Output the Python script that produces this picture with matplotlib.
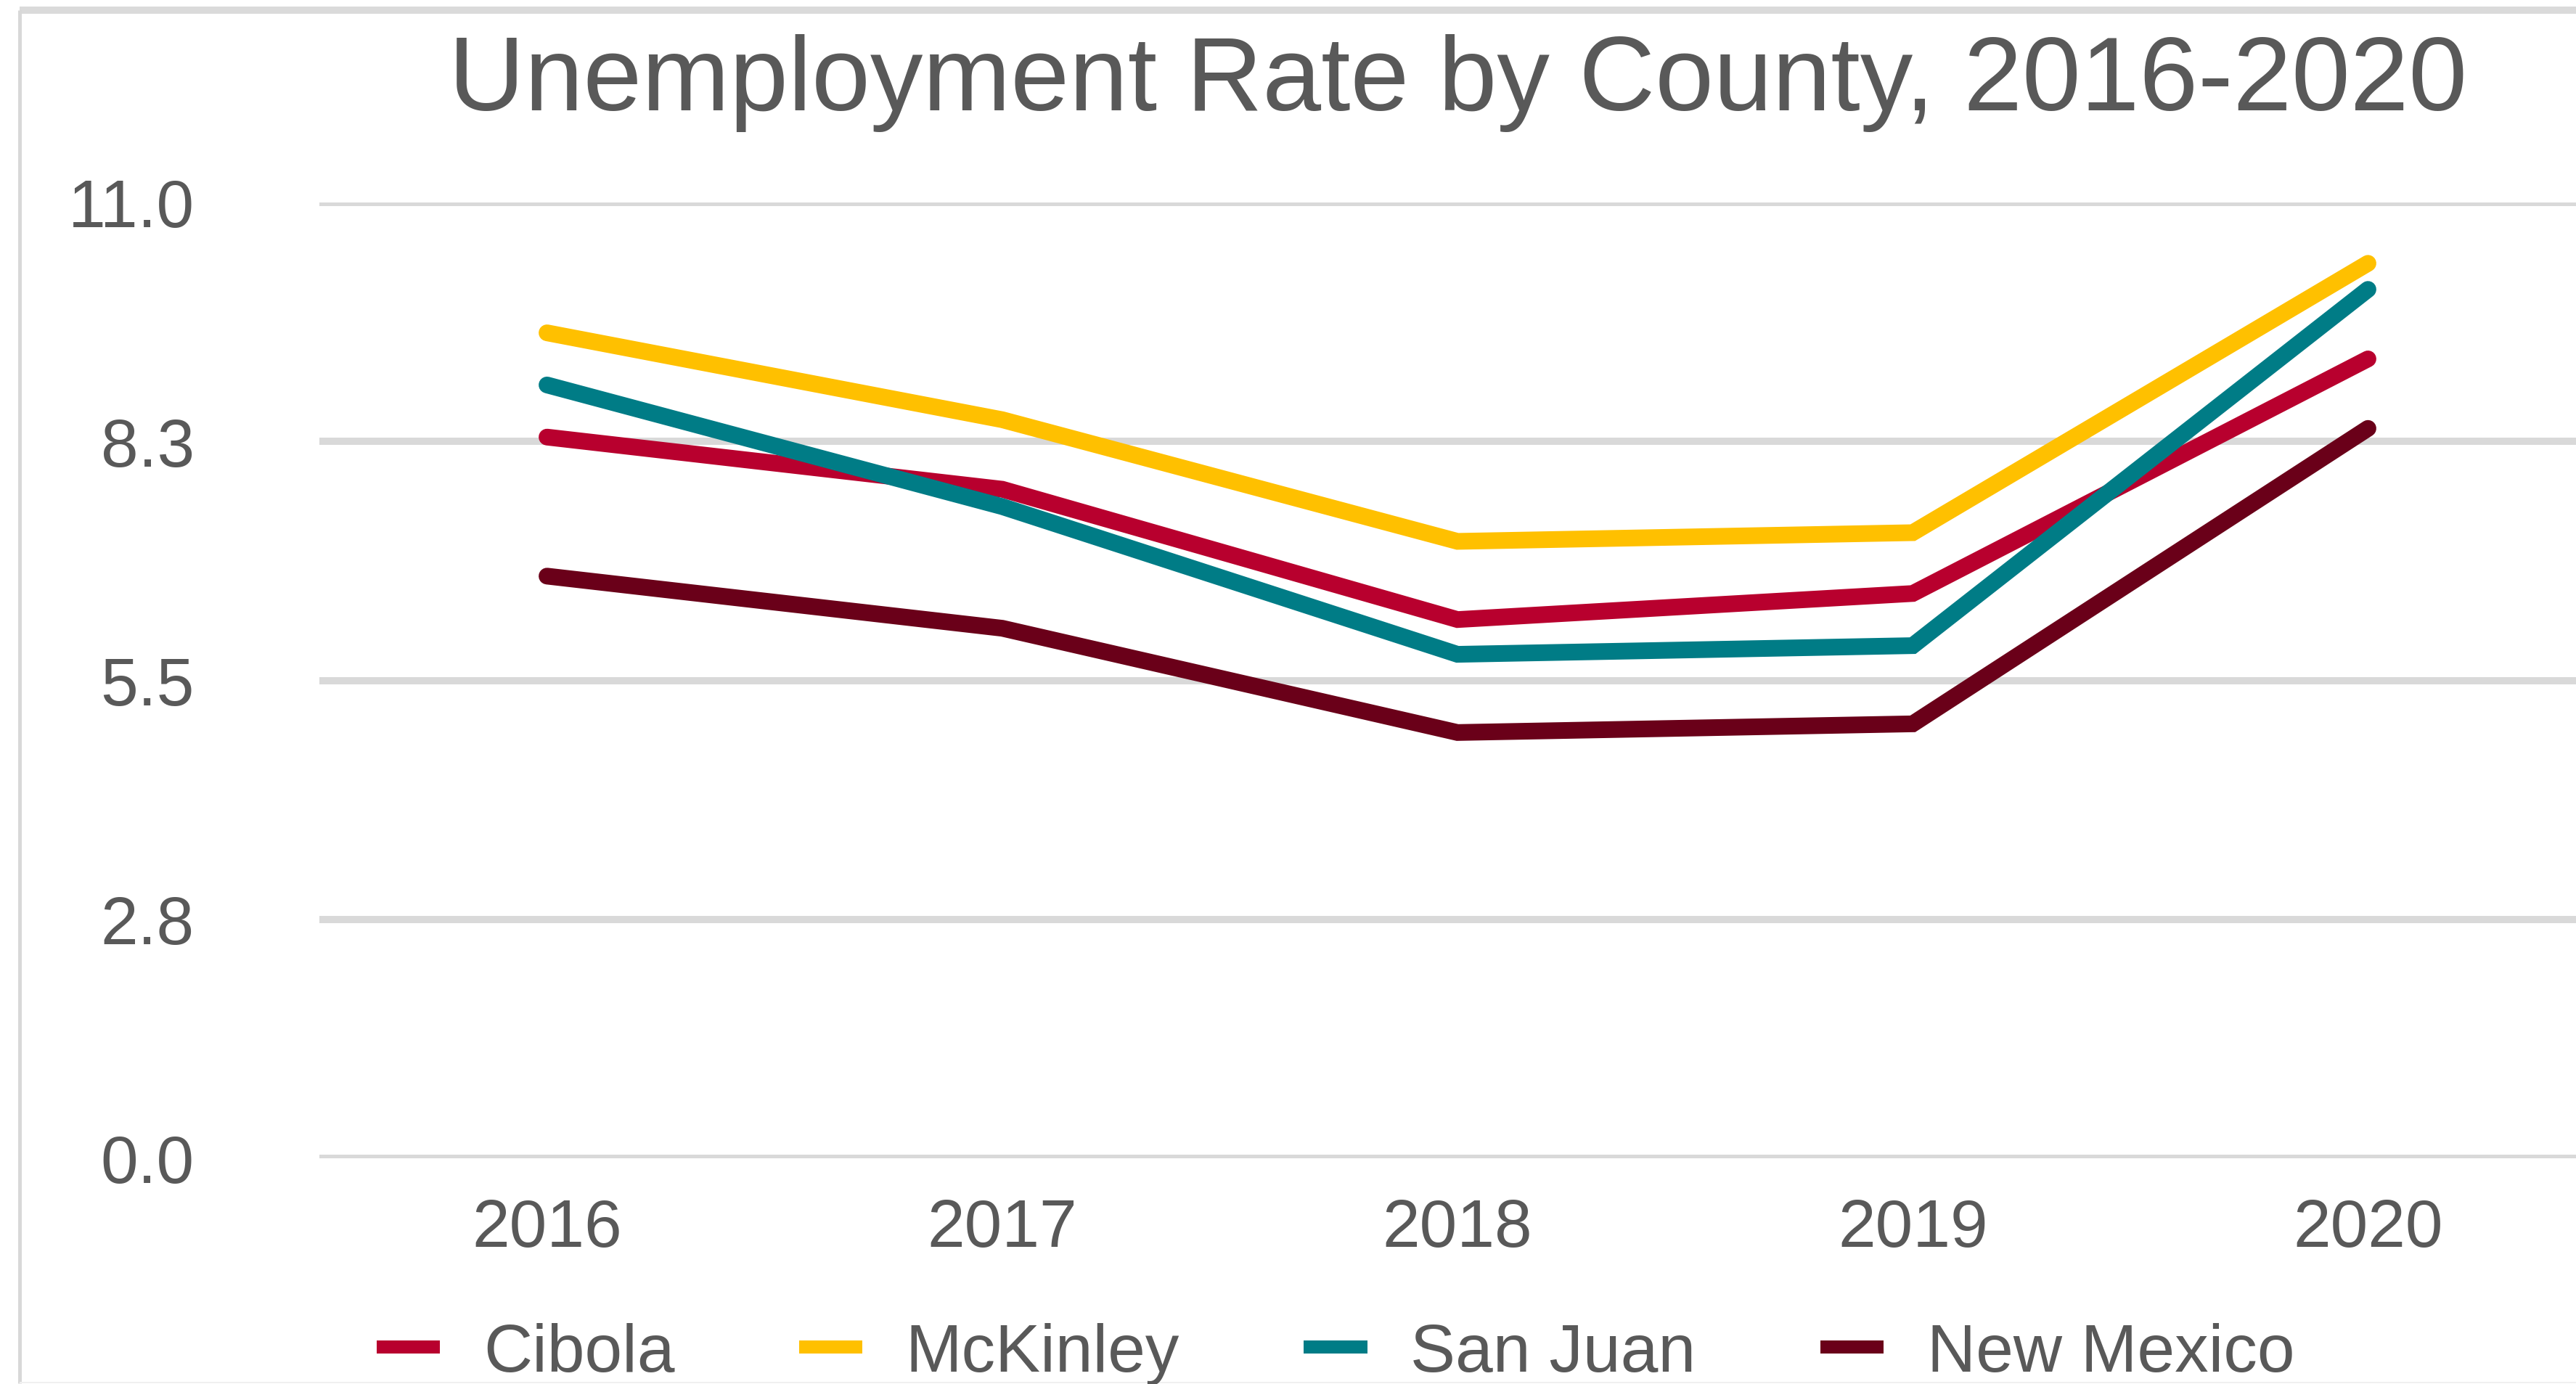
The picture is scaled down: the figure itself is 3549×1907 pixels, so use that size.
import matplotlib
matplotlib.use("Agg")
import matplotlib.pyplot as plt
from matplotlib.lines import Line2D

plt.rcParams['font.family'] = ['Liberation Sans', 'DejaVu Sans']

years = ["2016", "2017", "2018", "2019", "2020"]
series_names = ["Cibola", "McKinley", "San Juan", "New Mexico"]
cibola = [8.3, 7.7, 6.2, 6.5, 9.2]
mckinley = [9.5, 8.5, 7.1, 7.2, 10.3]
san_juan = [8.9, 7.5, 5.8, 5.9, 10.0]
new_mexico = [6.7, 6.1, 4.9, 5.0, 8.4]
y_ticks = [0.0, 2.75, 5.5, 8.25, 11.0]
y_tick_labels = ["0.0", "2.8", "5.5", "8.3", "11.0"]
title = "Unemployment Rate by County, 2016-2020"

colors = ["#B8002E", "#FFC000", "#007C86", "#6A0019"]
text_color = "#595959"
grid_color = "#D9D9D9"

W, H = 3549, 1908
DPI = 100
fig = plt.figure(figsize=(W / DPI, H / DPI), dpi=DPI)
fig.patch.set_facecolor("white")

def px(v):
    return v * 72.0 / DPI

# outer chart frame (cropped screenshot)
fig.add_artist(Line2D([27 / W, 1.0], [1 - 15 / H, 1 - 15 / H], transform=fig.transFigure,
                      color="#DADADA", lw=px(10), solid_capstyle="butt"))
fig.add_artist(Line2D([27 / W, 27 / W], [1 - 15 / H, 1 - 1907 / H], transform=fig.transFigure,
                      color="#D8D8D8", lw=px(5), solid_capstyle="butt"))
fig.add_artist(Line2D([27 / W, 1.0], [1 - 1906 / H, 1 - 1906 / H], transform=fig.transFigure,
                      color="#F0F0F0", lw=px(2), solid_capstyle="butt"))

left, right, top, bottom = 440, 3576, 280, 1597
ax = fig.add_axes([left / W, 1 - bottom / H, (right - left) / W, (bottom - top) / H])
ax.set_facecolor("none")

x = list(range(len(years)))
data = [cibola, mckinley, san_juan, new_mexico]
for vals, c, name in zip(data, colors, series_names):
    ax.plot(x, vals, color=c, lw=px(23), solid_capstyle="round",
            solid_joinstyle="miter", label=name, zorder=3)

ax.set_xlim(-0.5, len(years) - 0.5)
ax.set_ylim(0, 11)
ax.set_yticks(y_ticks)
ax.set_yticklabels(y_tick_labels)
ax.set_xticks(x)
ax.set_xticklabels(years)
ax.grid(axis="y", color=grid_color, lw=px(10), zorder=0)
ax.set_axisbelow(True)
for s in ax.spines.values():
    s.set_visible(False)
ax.tick_params(axis="both", length=0, labelsize=67, labelcolor=text_color)
ax.tick_params(axis="y", pad=124)
ax.tick_params(axis="x", pad=39)

fig.text(2009 / W, 1 - 152 / H, title, ha="center", va="baseline",
         fontsize=104.5, color=text_color)

handles = [Line2D([], [], color=c, lw=px(18), solid_capstyle="butt") for c in colors]
leg = fig.legend(handles, series_names, loc="center",
                 bbox_to_anchor=(1840 / W, 1 - 1866 / H), ncol=4, frameon=False,
                 fontsize=67, handlelength=0.94, handletextpad=0.64,
                 columnspacing=1.84, borderpad=0, borderaxespad=0)
for t in leg.get_texts():
    t.set_color(text_color)

fig.savefig("out.png", dpi=DPI, facecolor="white")
